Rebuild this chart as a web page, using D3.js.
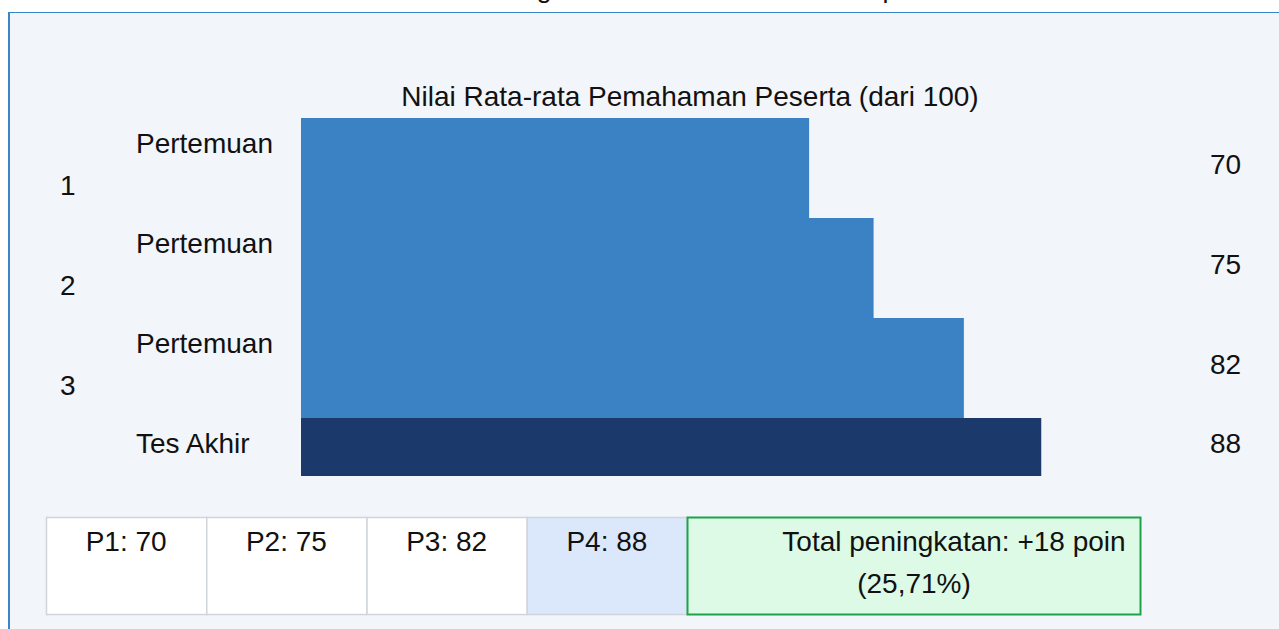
<!DOCTYPE html>
<html lang="id">
<head>
  <meta charset="UTF-8" />
  <title>Nilai Rata-rata Pemahaman Peserta</title>
  <style>
    html, body {
      margin: 0;
      padding: 0;
      background: #ffffff;
      overflow: hidden;
    }
    svg text {
      font-family: "Liberation Sans", Arial, sans-serif;
      fill: #111111;
    }
  </style>
</head>
<body>
  <div id="canvas"></div>
  <script src="https://cdn.jsdelivr.net/npm/d3@7"></script>
  <script>
    // data
    const pageTitle = "Grafik Peningkatan Pemahaman Peserta per Pertemuan";
    const chartTitle = "Nilai Rata-rata Pemahaman Peserta (dari 100)";
    const categories = ["Pertemuan 1", "Pertemuan 2", "Pertemuan 3", "Tes Akhir"];
    const labelLines = [["Pertemuan", "1"], ["Pertemuan", "2"], ["Pertemuan", "3"], ["Tes Akhir"]];
    const scores = [70, 75, 82, 88];
    const summaryKeys = ["P1", "P2", "P3", "P4"];

    const w = 1279;
    const h = 629;
    const lineH = 42;
    const fontSize = 28;

    const svg = d3.select("#canvas")
      .append("svg")
      .attr("width", w)
      .attr("height", h)
      .style("display", "block");

    // title sitting above the panel (only its descenders show, as in the original)
    svg.append("text")
      .attr("x", 390)
      .attr("y", -2)
      .style("font-size", "26.7px")
      .text(pageTitle);

    // panel
    svg.append("rect")
      .attr("x", 8)
      .attr("y", 12)
      .attr("width", w)
      .attr("height", h)
      .attr("fill", "#f2f5fa");
    svg.append("line")
      .attr("x1", 8).attr("x2", w)
      .attr("y1", 12.5).attr("y2", 12.5)
      .attr("stroke", "#3a84c8")
      .attr("stroke-width", 1);
    svg.append("line")
      .attr("x1", 9).attr("x2", 9)
      .attr("y1", 12).attr("y2", h)
      .attr("stroke", "#3a84c8")
      .attr("stroke-width", 2);

    // chart title
    svg.append("text")
      .attr("x", 690)
      .attr("y", 106)
      .attr("text-anchor", "middle")
      .style("font-size", fontSize + "px")
      .text(chartTitle);

    // row layout: every row is as tall as its wrapped label
    const rows = [];
    let rowTop = 118;
    categories.forEach(function(c, i) {
      const hh = labelLines[i].length * lineH + 16;
      rows.push({ name: c, value: scores[i], lines: labelLines[i], y: rowTop, h: hh, last: i === categories.length - 1 });
      rowTop += hh;
    });

    const x = d3.scaleLinear()
      .domain([30.6, 100])
      .range([301, 1196]);

    const chart = svg.append("g");

    chart.selectAll(".bar")
      .data(rows)
      .enter()
      .append("rect")
      .attr("class", "bar")
      .attr("x", x.range()[0])
      .attr("y", d => d.y)
      .attr("width", d => x(d.value) - x.range()[0])
      .attr("height", d => d.h)
      .attr("fill", d => d.last ? "#1c396b" : "#3b82c4");

    // row labels (first line indented)
    const lab = chart.selectAll(".lab")
      .data(rows)
      .enter()
      .append("text")
      .attr("class", "lab")
      .style("font-size", fontSize + "px");
    lab.each(function(d) {
      const t = d3.select(this);
      const y0 = d.y + d.h / 2 - (d.lines.length - 1) * lineH / 2 + 6;
      d.lines.forEach(function(line, j) {
        t.append("tspan")
          .attr("x", j === 0 ? 136 : 60)
          .attr("y", y0 + j * lineH)
          .text(line);
      });
    });

    // value labels
    chart.selectAll(".val")
      .data(rows)
      .enter()
      .append("text")
      .attr("class", "val")
      .attr("x", 1210)
      .attr("y", d => d.y + d.h / 2 + 6)
      .style("font-size", fontSize + "px")
      .text(d => d.value);

    // summary table
    const tTop = 517;
    const tH = 97;
    const cx = d3.scaleBand()
      .domain(summaryKeys)
      .range([46, 687]);

    const cells = svg.append("g");
    cells.selectAll(".cell")
      .data(summaryKeys)
      .enter()
      .append("rect")
      .attr("class", "cell")
      .attr("x", d => cx(d) + 0.5)
      .attr("y", tTop + 0.5)
      .attr("width", cx.bandwidth())
      .attr("height", tH)
      .attr("fill", (d, i) => i === summaryKeys.length - 1 ? "#dbe8fb" : "#ffffff")
      .attr("stroke", "#d0d5dd")
      .attr("stroke-width", 1.5);

    cells.selectAll(".ctext")
      .data(summaryKeys)
      .enter()
      .append("text")
      .attr("class", "ctext")
      .attr("x", d => cx(d) + cx.bandwidth() / 2)
      .attr("y", tTop + 34)
      .attr("text-anchor", "middle")
      .style("font-size", fontSize + "px")
      .text((d, i) => d + ": " + scores[i]);

    const gain = scores[scores.length - 1] - scores[0];
    const pct = (gain / scores[0] * 100).toFixed(2).replace(".", ",");
    const gx0 = cx.range()[1];
    const gx1 = 1141;

    cells.append("rect")
      .attr("x", gx0 + 0.5)
      .attr("y", tTop + 0.5)
      .attr("width", gx1 - gx0 - 1)
      .attr("height", tH)
      .attr("fill", "#dcfae6")
      .attr("stroke", "#1fa34a")
      .attr("stroke-width", 2);

    cells.append("text")
      .attr("x", (gx0 + gx1) / 2 + 40)
      .attr("y", tTop + 34)
      .attr("text-anchor", "middle")
      .style("font-size", fontSize + "px")
      .text("Total peningkatan: +" + gain + " poin");

    cells.append("text")
      .attr("x", (gx0 + gx1) / 2)
      .attr("y", tTop + 34 + lineH)
      .attr("text-anchor", "middle")
      .style("font-size", fontSize + "px")
      .text("(" + pct + "%)");
  </script>
</body>
</html>
